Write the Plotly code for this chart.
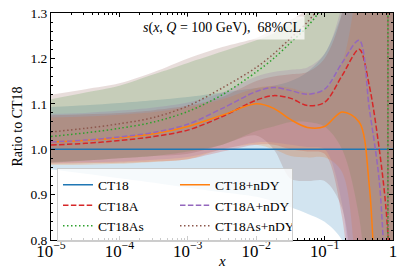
import plotly.graph_objects as go

# knots in x
x_knots = [1e-5, 3.2e-5, 1e-4, 3.2e-4, 1e-3, 3.2e-3, 1e-2, 0.018, 0.032, 0.056,
           0.1, 0.18, 0.32, 0.45, 0.63, 0.8, 1.0]

# central ratios
ct18 = [1.0] * 17
ct18a = [1.009, 1.013, 1.019, 1.028, 1.042, 1.072, 1.108, 1.118, 1.112, 1.096,
         1.103, 1.162, 1.22, 1.14, 1.0, 0.86, 0.6]
ct18_ndy = [1.016, 1.019, 1.025, 1.034, 1.05, 1.075, 1.10, 1.09, 1.065, 1.048,
            1.05, 1.082, 1.06, 0.92, 0.5, 0.3, 0.1]
ct18a_ndy = [1.016, 1.02, 1.027, 1.037, 1.055, 1.09, 1.127, 1.136, 1.129, 1.121,
             1.132, 1.19, 1.24, 1.09, 0.93, 0.66, 0.4]
x_as = [1e-5, 3.2e-5, 1e-4, 3.2e-4, 1e-3, 3.2e-3, 1e-2, 0.018, 0.032, 0.056,
        0.1, 0.18, 0.32, 0.45, 0.63, 0.8, 0.85, 0.88, 1.0]
ct18as = [1.028, 1.036, 1.046, 1.060, 1.083, 1.12, 1.17, 1.2, 1.235, 1.27,
          1.32, 1.4, 1.5, 1.6, 1.8, 2.2, 3.5, -1.0, -1.5]
ct18as_ndy = [1.038, 1.046, 1.056, 1.07, 1.095, 1.135, 1.18, 1.21, 1.245, 1.28,
              1.33, 1.42, 1.52, 1.62, 1.82, 2.2, 3.5, -1.0, -1.5]

# 68% CL bands
ct18_hi = [1.093, 1.097, 1.102, 1.108, 1.115, 1.125, 1.135, 1.14, 1.15, 1.17, 1.21, 1.3, 1.45, 1.6, 1.8, 2.0, 2.2]
ct18_lo = [0.956, 0.946, 0.936, 0.926, 0.915, 0.905, 0.895, 0.885, 0.872, 0.858, 0.84, 0.8, 0.7, 0.6, 0.5, 0.4, 0.3]
ct18a_hi = [1.075, 1.077, 1.08, 1.086, 1.096, 1.115, 1.15, 1.16, 1.165, 1.17, 1.2, 1.3, 1.6, 2.0, 2.5, 3.0, 3.0]
ct18a_lo = [0.968, 0.969, 0.97, 0.973, 0.978, 0.995, 1.01, 1.01, 1.0, 0.995, 0.99, 0.85, 0.4, 0.2, 0.0, -0.3, -0.5]
ct18as_hi = [1.11, 1.125, 1.14, 1.165, 1.19, 1.215, 1.24, 1.255, 1.275, 1.3, 1.4, 1.6, 1.8, 2.0, 2.5, 3.0, 3.0]
ct18as_lo = [0.97, 0.975, 0.98, 0.985, 0.995, 1.01, 1.04, 1.05, 1.06, 1.06, 1.05, 1.0, 0.85, 0.6, 0.3, 0.0, -0.5]
ct18_ndy_hi = [1.07, 1.072, 1.076, 1.082, 1.093, 1.11, 1.135, 1.14, 1.135, 1.125, 1.13, 1.19, 1.4, 1.6, 2.0, 2.5, 3.0]
ct18_ndy_lo = [0.965, 0.966, 0.968, 0.972, 0.978, 1.0, 1.01, 1.0, 0.985, 0.982, 0.982, 0.95, 0.6, 0.3, 0.0, -0.3, -0.5]
ct18a_ndy_hi = [1.078, 1.08, 1.085, 1.092, 1.103, 1.125, 1.16, 1.17, 1.175, 1.18, 1.21, 1.32, 1.6, 2.0, 2.5, 3.0, 3.0]
ct18a_ndy_lo = [0.97, 0.971, 0.973, 0.977, 0.983, 1.0, 1.015, 1.015, 1.01, 1.005, 1.0, 0.88, 0.4, 0.2, 0.0, -0.3, -0.5]
ct18as_ndy_hi = [1.12, 1.132, 1.145, 1.17, 1.2, 1.225, 1.245, 1.265, 1.285, 1.31, 1.4, 1.6, 1.8, 2.0, 2.5, 3.0, 3.0]
ct18as_ndy_lo = [0.972, 0.975, 0.98, 0.985, 0.99, 1.01, 1.03, 1.0, 0.935, 0.93, 0.93, 0.87, 0.5, 0.3, 0.0, -0.3, -0.5]

names = ["CT18", "CT18A", "CT18As", "CT18+nDY", "CT18A+nDY", "CT18As+nDY"]
colors = ["#1f77b4", "#d62728", "#2ca02c", "#ff7f0e", "#9467bd", "#8c564b"]
rgb = [(31, 119, 180), (214, 39, 40), (44, 160, 44), (255, 127, 14), (148, 103, 189), (140, 86, 75)]
dashes = ["solid", "5.5px,2.4px", "1.5px,2.5px", "solid", "5.5px,2.4px", "1.5px,2.5px"]
ranks = [1, 3, 5, 2, 4, 6]

bands = [(ct18_lo, ct18_hi), (ct18a_lo, ct18a_hi), (ct18as_lo, ct18as_hi),
         (ct18_ndy_lo, ct18_ndy_hi), (ct18a_ndy_lo, ct18a_ndy_hi), (ct18as_ndy_lo, ct18as_ndy_hi)]
centrals = [(x_knots, ct18), (x_knots, ct18a), (x_as, ct18as),
            (x_knots, ct18_ndy), (x_knots, ct18a_ndy), (x_as, ct18as_ndy)]

fig = go.Figure()
for (lo, hi), c in zip(bands, rgb):
    fig.add_trace(go.Scatter(x=x_knots, y=lo, mode="lines", line=dict(width=0, shape="spline", smoothing=0.9),
                             showlegend=False, hoverinfo="skip"))
    fig.add_trace(go.Scatter(x=x_knots, y=hi, mode="lines", line=dict(width=0, shape="spline", smoothing=0.9),
                             fill="tonexty", fillcolor="rgba(%d,%d,%d,0.2)" % c,
                             showlegend=False, hoverinfo="skip"))

for (xs, ys), n, col, d, r in zip(centrals, names, colors, dashes, ranks):
    fig.add_trace(go.Scatter(x=xs, y=ys, mode="lines", name=n, legendrank=r,
                             line=dict(color=col, width=1.5, dash=d, shape="spline", smoothing=0.9)))

font = "Liberation Serif, DejaVu Serif, serif"
axis_common = dict(showline=True, linecolor="black", linewidth=1, mirror="ticks",
                   ticks="inside", ticklen=4, tickcolor="black", showgrid=False, zeroline=False,
                   tickfont=dict(family=font, size=13.5, color="black"))

fig.update_xaxes(type="log", range=[-5, 0], dtick=1, exponentformat="power", ticklabelstandoff=-4,
                 minor=dict(ticks="inside", ticklen=2, dtick="D1", tickcolor="black"),
                 **axis_common)
fig.update_yaxes(range=[0.8, 1.3], dtick=0.1, tickformat=".1f",
                 minor=dict(ticks="inside", ticklen=2, dtick=0.02, tickcolor="black"),
                 **axis_common)

fig.add_annotation(text="<i>s</i>(<i>x</i>, <i>Q</i> = 100 GeV),  68%CL", xref="paper", yref="paper",
                   x=0.5, y=0.935, xanchor="center", yanchor="middle", showarrow=False,
                   font=dict(family=font, size=14, color="black"),
                   bgcolor="rgba(255,255,255,0.75)", borderpad=3)
fig.add_annotation(text="Ratio to CT18", xref="paper", yref="paper", x=0, y=0.5, xshift=-34,
                   textangle=-90, showarrow=False, xanchor="center", yanchor="middle",
                   font=dict(family=font, size=14, color="black"))
fig.add_annotation(text="<i>x</i>", xref="paper", yref="paper", x=0.5, y=0, yshift=-21,
                   showarrow=False, xanchor="center", yanchor="middle",
                   font=dict(family=font, size=15, color="black"))

fig.update_layout(
    width=407, height=271,
    margin=dict(l=51, r=14, t=13, b=31, autoexpand=False),
    paper_bgcolor="white", plot_bgcolor="white",
    legend=dict(orientation="h", x=0.0175, y=0.315, xanchor="left", yanchor="top",
                entrywidth=72, entrywidthmode="pixels", traceorder="normal",
                bgcolor="rgba(255,255,255,0.8)", bordercolor="rgba(200,200,200,0.9)", borderwidth=1,
                font=dict(family=font, size=13.5, color="black"), tracegroupgap=0),
)

fig.write_html("out.html", post_script="document.body.style.margin='0';",
               config={"displayModeBar": False})
